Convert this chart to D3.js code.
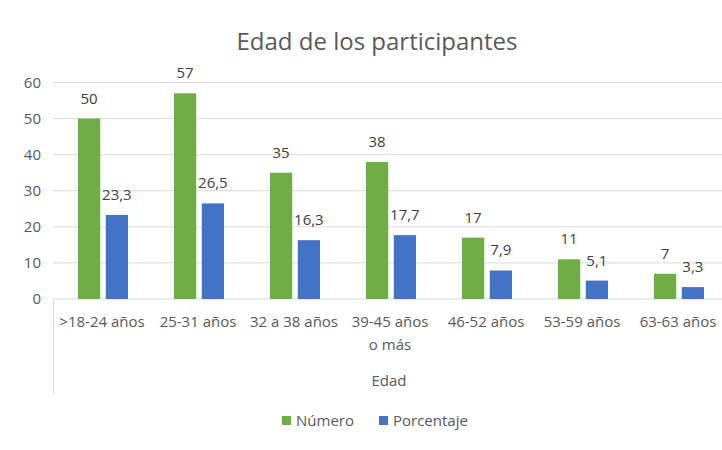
<!DOCTYPE html>
<html>
<head>
<meta charset="utf-8">
<script src="https://cdn.jsdelivr.net/npm/d3@7"></script>
<style>
  body { margin: 0; background: #fff; }
  svg { display: block; font-family: "Open Sans", sans-serif; }
  .grid line { stroke: #d9d9d9; }
  .axis text { fill: #595959; }
</style>
</head>
<body>
<div id="chart"></div>
<script>
let categories = ['>18-24 años', '25-31 años', '32 a 38 años', '39-45 años o más', '46-52 años', '53-59 años', '63-63 años'];
let numero = [50, 57, 35, 38, 17, 11, 7];
let porcentaje = [23.3, 26.5, 16.3, 17.7, 7.9, 5.1, 3.3];
let seriesNames = ['Número', 'Porcentaje'];
let yTicks = [0, 10, 20, 30, 40, 50, 60];

let WIDTH = 722;
let HEIGHT = 450;
let COLORS = {'Número': '#70ad47', 'Porcentaje': '#4472c4'};
let FONT = 15;

let svg = d3.select('#chart').append('svg')
	.attr('width', WIDTH)
	.attr('height', HEIGHT);

let x0 = d3.scaleBand()
	.domain(categories)
	.range([53, 725]);

let x1 = d3.scaleBand()
	.domain(seriesNames)
	.range([0, 50])
	.paddingInner(0.2);

let groupOffset = (x0.bandwidth() - 50) / 2 + 2;

let y = d3.scaleLinear()
	.domain([0, 60])
	.range([299, 82.5]);

// title
svg.append('text')
	.attr('x', 377)
	.attr('y', 50)
	.attr('text-anchor', 'middle')
	.attr('font-size', 24)
	.attr('fill', '#595959')
	.text('Edad de los participantes');

// gridlines
svg.append('g').attr('class', 'grid')
	.selectAll('line')
	.data(yTicks.filter(d => d > 0))
	.enter().append('line')
	.attr('x1', 53)
	.attr('x2', WIDTH)
	.attr('y1', d => y(d))
	.attr('y2', d => y(d));

// y axis labels
let yAxis = d3.axisLeft(y).tickValues(yTicks).tickSize(0).tickPadding(0);
svg.append('g').attr('class', 'axis')
	.attr('transform', 'translate(41,0)')
	.call(yAxis)
	.call(g => g.select('.domain').remove())
	.selectAll('text')
	.attr('font-size', FONT)
	.attr('font-family', '"Open Sans", sans-serif');

// x axis line and left border of category area
svg.append('line')
	.attr('x1', 53).attr('x2', WIDTH)
	.attr('y1', 299).attr('y2', 299)
	.attr('stroke', '#d9d9d9');
svg.append('line')
	.attr('x1', 53.5).attr('x2', 53.5)
	.attr('y1', 299).attr('y2', 394)
	.attr('stroke', '#d9d9d9');

let rows = categories.map((c, i) => ({
	cat: c,
	values: [
		{key: 'Número', value: numero[i], label: String(numero[i])},
		{key: 'Porcentaje', value: porcentaje[i], label: String(porcentaje[i]).replace('.', ',')}
	]
}));

let groups = svg.append('g').selectAll('g')
	.data(rows)
	.enter().append('g')
	.attr('transform', d => 'translate(' + (x0(d.cat) + groupOffset) + ',0)');

groups.selectAll('rect')
	.data(d => d.values)
	.enter().append('rect')
	.attr('x', d => x1(d.key))
	.attr('y', d => y(d.value))
	.attr('width', x1.bandwidth())
	.attr('height', d => y(0) - y(d.value))
	.attr('fill', d => COLORS[d.key]);

groups.selectAll('text.lbl')
	.data(d => d.values)
	.enter().append('text')
	.attr('class', 'lbl')
	.attr('x', d => x1(d.key) + x1.bandwidth() / 2)
	.attr('y', d => y(d.value) - 15)
	.attr('text-anchor', 'middle')
	.attr('font-size', FONT)
	.attr('fill', '#404040')
	.text(d => d.label);

// category labels, wrapped only when wider than the band
let catLabels = svg.append('g').attr('class', 'axis')
	.selectAll('text')
	.data(categories)
	.enter().append('text')
	.attr('x', d => x0(d) + x0.bandwidth() / 2 + 1)
	.attr('y', 327)
	.attr('text-anchor', 'middle')
	.attr('font-size', FONT)
	.text(d => d);

let wrapWidth = 86;
catLabels.each(function(d) {
	let el = d3.select(this);
	if (this.getComputedTextLength() <= x0.bandwidth()) return;
	el.text(null);
	let words = d.split(' ');
	let line = [];
	let tspan = el.append('tspan').attr('x', el.attr('x')).attr('dy', 0);
	words.forEach(w => {
		line.push(w);
		tspan.text(line.join(' '));
		if (tspan.node().getComputedTextLength() > wrapWidth && line.length > 1) {
			line.pop();
			tspan.text(line.join(' '));
			line = [w];
			tspan = el.append('tspan').attr('x', el.attr('x')).attr('dy', '1.5em').text(w);
		}
	});
});

// axis title
svg.append('text')
	.attr('x', 389)
	.attr('y', 386)
	.attr('text-anchor', 'middle')
	.attr('font-size', FONT)
	.attr('fill', '#595959')
	.text('Edad');

// legend
let legendX = {'Número': 282, 'Porcentaje': 379};
let legend = svg.append('g').selectAll('g')
	.data(seriesNames)
	.enter().append('g')
	.attr('transform', d => 'translate(' + legendX[d] + ',416)');
legend.append('rect')
	.attr('width', 9).attr('height', 9)
	.attr('fill', d => COLORS[d]);
legend.append('text')
	.attr('x', 14)
	.attr('y', 10)
	.attr('font-size', FONT)
	.attr('fill', '#595959')
	.text(d => d);
</script>
</body>
</html>
